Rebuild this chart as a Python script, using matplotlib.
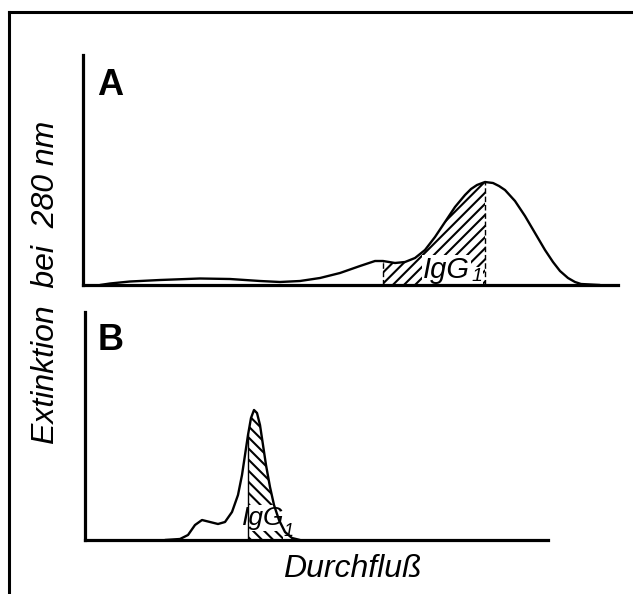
import matplotlib.pyplot as plt
from matplotlib.lines import Line2D

plt.rcParams['font.family'] = ['Liberation Sans', 'DejaVu Sans']
plt.rcParams['hatch.linewidth'] = 1.5

# Elution profiles (flow in arbitrary units, absorbance in arbitrary units)
flow_a = [17, 27, 47, 77, 117, 147, 177, 197, 217, 237, 257, 277, 292, 300, 312, 322, 332,
          342, 352, 362, 372, 382, 388, 394, 402, 410, 416, 422, 432, 442, 452, 462, 470,
          477, 485, 492, 498, 517]
ext_a = [0, 1.5, 3.5, 5, 6.5, 6, 4, 3, 4, 7, 12, 19, 24, 24, 22, 23, 27, 35, 48, 63, 78,
         90, 96, 100, 103, 102, 99, 95, 84, 69, 52, 35, 23, 14, 7, 3, 1, 0]
igg_a_range = (300, 402)

flow_b = [80, 95, 103, 110, 117, 125, 133, 140, 147, 153, 157, 160, 163, 166, 169, 172, 175,
          178, 181, 185, 189, 194, 200, 207, 215]
ext_b = [0, 1, 5, 15, 20, 18, 16, 18, 28, 45, 65, 85, 105, 122, 130, 127, 115, 95, 75, 53,
         35, 20, 8, 2, 0]
igg_b_start = 163

fig = plt.figure(figsize=(6.33, 5.94), dpi=100)
W, H = 633, 594


def px(x, y):
    return x / W, 1 - y / H


def setup(ax, xmax, ymax):
    ax.set_xlim(0, xmax)
    ax.set_ylim(0, ymax)
    for s in ['top', 'right']:
        ax.spines[s].set_visible(False)
    for s in ['left', 'bottom']:
        ax.spines[s].set_linewidth(2.3)
    ax.set_xticks([])
    ax.set_yticks([])
    ax.patch.set_alpha(0)


white = dict(facecolor='white', edgecolor='none', pad=0.4)

# panel A
ax_a = fig.add_axes([83 / W, 1 - 285 / H, (618 - 83) / W, (285 - 55) / H])
setup(ax_a, 535, 230)
ax_a.plot(flow_a, ext_a, color='black', lw=1.7, solid_capstyle='round')
inside = [(f, e) for f, e in zip(flow_a, ext_a) if igg_a_range[0] <= f <= igg_a_range[1]]
ax_a.fill_between([f for f, _ in inside], [e for _, e in inside], 0,
                  facecolor='none', edgecolor='black', hatch='///', linewidth=0, zorder=1)
for f, e in zip(flow_a, ext_a):
    if f in igg_a_range:
        ax_a.plot([f, f], [0, e], color='black', lw=1.0, ls=(0, (4, 2)))
ax_a.text(340, 7, 'IgG', fontsize=21, style='italic', ha='left', va='baseline',
          bbox=white, zorder=1.5)
ax_a.text(389, 4, '1', fontsize=14, style='italic', ha='left', va='baseline',
          bbox=white, zorder=1.5)

# panel B
ax_b = fig.add_axes([85 / W, 1 - 540 / H, (548 - 85) / W, (540 - 312) / H])
setup(ax_b, 463, 228)
ax_b.plot(flow_b, ext_b, color='black', lw=1.7, solid_capstyle='round')
inside_b = [(f, e) for f, e in zip(flow_b, ext_b) if f >= igg_b_start]
ax_b.fill_between([f for f, _ in inside_b], [e for _, e in inside_b], 0,
                  facecolor='none', edgecolor='black', hatch='\\\\\\', linewidth=0, zorder=1)
ax_b.plot([igg_b_start, igg_b_start], [0, 105], color='black', lw=1.0)
ax_b.text(157, 15, 'IgG', fontsize=19, style='italic', ha='left', va='baseline',
          bbox=white, zorder=1.5)
ax_b.text(199, 4, '1', fontsize=13, style='italic', ha='left', va='baseline',
          bbox=white, zorder=1.5)

# panel letters and axis labels
fig.text(*px(97, 95), 'A', fontsize=26, fontweight='bold', ha='left', va='baseline')
fig.text(*px(98, 350), 'B', fontsize=26, fontweight='bold', ha='left', va='baseline')
fig.text(*px(352, 577), 'Durchfluß', fontsize=23, style='italic', ha='center', va='baseline')
fig.text(*px(46, 282), 'Extinktion  bei  280 nm', fontsize=23, style='italic',
         rotation=90, ha='center', va='center')

# outer frame
fig.add_artist(Line2D([9 / W, 9 / W], [0, 1 - 12 / H], color='black', lw=2.2))
fig.add_artist(Line2D([9 / W, 1], [1 - 12 / H, 1 - 12 / H], color='black', lw=2.2))

fig.savefig('out.png', dpi=100)
